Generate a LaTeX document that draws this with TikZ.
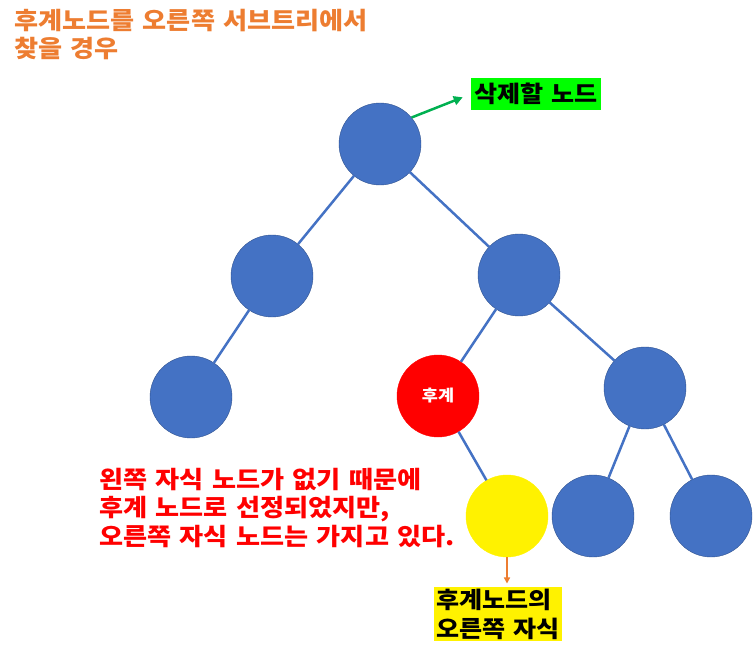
\documentclass[tikz,border=0pt]{standalone}
\usepackage{fontspec}
\setmainfont{Noto Sans CJK KR}[FakeStretch=1.09, WordSpace=1.4]
\usetikzlibrary{arrows.meta}

\definecolor{nodeblue}{RGB}{68,114,196}
\definecolor{edgeblue}{RGB}{47,82,143}
\definecolor{titleorange}{RGB}{237,125,49}
\definecolor{arrowgreen}{RGB}{0,176,80}

\begin{document}
\begin{tikzpicture}[
x=1pt, y=-1pt,
treenode/.style={
  circle,
  draw=edgeblue,
  fill=nodeblue,
  minimum size=82pt,
  inner sep=0pt
  },
branch/.style={draw=nodeblue, line width=2.5pt},
note/.style={align=left, inner sep=0pt, font=\bfseries\fontsize{24}{28.5}\selectfont}
]
\useasboundingbox (0,0) rectangle (753,658);

\node[note, text=titleorange, anchor=north west] (title) at (14,9)
  {후계노드를 오른쪽 서브트리에서\\찾을 경우};

\foreach \Name/\X/\Y in {root/380/144, l/272/276, r/519/275, ll/191/397,
                         rr/645/388, rrl/593/516, rrr/711/516}
  \node[treenode] (\Name) at (\X,\Y) {};
\node[treenode, fill=red, draw=red, text=white,
      font=\bfseries\fontsize{16}{18}\selectfont] (succ) at (438,396) {후계};
\node[treenode, fill=yellow, draw=yellow] (succr) at (507,516) {};

\path[branch]
	(root) edge (l)
	(root) edge (r)
	(l) edge (ll)
	(r) edge (succ)
	(r) edge (rr)
	(succ) edge (succr)
	(rr) edge (rrl)
	(rr) edge (rrr);

\node[fill=green, inner sep=3pt, minimum height=32pt,
      font=\bfseries\fontsize{23}{28}\selectfont] (del) at (536,94) {삭제할 노드};
\draw[arrowgreen, line width=2.5pt, -{Triangle[length=9pt,width=9pt]},
      shorten >=9pt] (root.40) -- (del.west);

\node[note, fill=yellow, inner sep=2pt, font=\bfseries\fontsize{23}{29}\selectfont]
  (succlabel) at (498,614) {후계노드의\\오른쪽 자식};
\draw[titleorange, line width=1.5pt, -{Triangle[length=6pt,width=6pt]},
      shorten >=3pt] (succr.south) -- (succr.south |- succlabel.north);

\node[note, text=red, anchor=north west] (reason) at (99,468)
  {왼쪽 자식 노드가 없기 때문에\\후계 노드로 선정되었지만,\\오른쪽 자식 노드는 가지고 있다.};
\end{tikzpicture}
\end{document}
